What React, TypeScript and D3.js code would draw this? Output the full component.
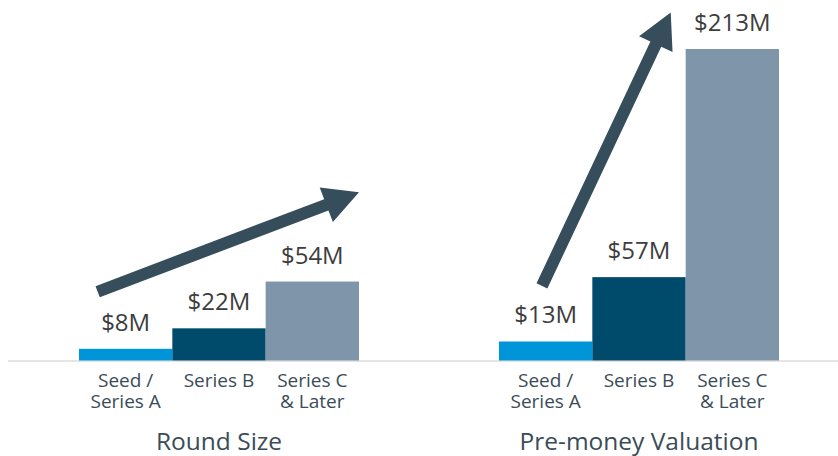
import { useRef, useEffect } from "react";
import * as d3 from "d3";

// --- data ---
const categories = ["seed", "seriesB", "seriesC"];
const categoryLines = [["Seed /", "Series A"], ["Series B"], ["Series C", "& Later"]];
const panels = ["Round Size", "Pre-money Valuation"];
const roundSize = [8, 22, 54];
const preMoney = [13, 57, 213];
const panelValues = [roundSize, preMoney];
const valueLabels = [["$8M", "$22M", "$54M"], ["$13M", "$57M", "$213M"]];
// arrows in data space: [band index + fraction, value] from -> to
const arrowFrom = [[0.2, 47], [0.46, 51]];
const arrowTo = [[3.0, 115], [1.84, 238]];

const colors = ["#0095d9", "#004b6b", "#7f96aa"];
const arrowColor = "#364d5c";

export default function App() {
  const ref = useRef<SVGSVGElement>(null);

  useEffect(() => {
    const svg = d3.select(ref.current);
    svg.selectAll("*").remove();

    const width = 838;
    const baseY = 360.5;
    const panelLeft = 79;
    const panelStep = 420;
    const panelWidth = 280;

    const y = d3.scaleLinear().domain([0, 213]).range([baseY, 49]);

    // baseline
    svg
      .append("line")
      .attr("x1", 8)
      .attr("x2", width)
      .attr("y1", baseY + 0.5)
      .attr("y2", baseY + 0.5)
      .attr("stroke", "#dcdcdc")
      .attr("stroke-width", 1.5);

    panels.forEach((title, pi) => {
      const x0 = panelLeft + pi * panelStep;
      const x = d3
        .scaleBand()
        .domain(categories)
        .range([x0, x0 + panelWidth])
        .padding(0);
      const vals = panelValues[pi];
      const g = svg.append("g");

      // bars
      g.selectAll("rect")
        .data(vals)
        .join("rect")
        .attr("x", (_, i) => x(categories[i])!)
        .attr("width", x.bandwidth())
        .attr("y", (d) => y(d))
        .attr("height", (d) => baseY - y(d))
        .attr("fill", (_, i) => colors[i]);

      // value labels
      g.selectAll("text.val")
        .data(vals)
        .join("text")
        .attr("class", "val")
        .attr("x", (_, i) => x(categories[i])! + x.bandwidth() / 2)
        .attr("y", (d) => y(d) - 18)
        .attr("text-anchor", "middle")
        .attr("font-family", "'Open Sans', sans-serif")
        .attr("font-size", 24)
        .attr("fill", "#3d3d3d")
        .text((_, i) => valueLabels[pi][i]);

      // category labels, one text per line
      categoryLines.forEach((lines, i) => {
        lines.forEach((ln, li) => {
          g.append("text")
            .attr("x", x(categories[i])! + x.bandwidth() / 2)
            .attr("y", 387 + li * 20.5)
            .attr("text-anchor", "middle")
            .attr("font-family", "'Open Sans', sans-serif")
            .attr("font-size", 19)
            .attr("fill", "#3b4c58")
            .text(ln);
        });
      });

      // panel title
      g.append("text")
        .attr("x", x0 + panelWidth / 2)
        .attr("y", 450)
        .attr("text-anchor", "middle")
        .attr("font-family", "'Open Sans', sans-serif")
        .attr("font-size", 24.5)
        .attr("fill", "#3b4c58")
        .text(title);

      // arrow
      const px = (f: number) => x0 + (f * panelWidth) / categories.length;
      const [sx, sy] = [px(arrowFrom[pi][0]), y(arrowFrom[pi][1])];
      const [tx, ty] = [px(arrowTo[pi][0]), y(arrowTo[pi][1])];
      const len = Math.hypot(tx - sx, ty - sy);
      const ux = (tx - sx) / len;
      const uy = (ty - sy) / len;
      const nx = -uy;
      const ny = ux;
      const shaftW = 6;
      const headW = 18.5;
      const headL = 35;
      const bx = tx - ux * headL;
      const by = ty - uy * headL;
      const pts: [number, number][] = [
        [sx + nx * shaftW, sy + ny * shaftW],
        [bx + nx * shaftW, by + ny * shaftW],
        [bx + nx * headW, by + ny * headW],
        [tx, ty],
        [bx - nx * headW, by - ny * headW],
        [bx - nx * shaftW, by - ny * shaftW],
        [sx - nx * shaftW, sy - ny * shaftW],
      ];
      g.append("path")
        .attr("d", d3.line()(pts) + "Z")
        .attr("fill", arrowColor);
    });
  }, []);

  return (
    <svg
      ref={ref}
      width={838}
      height={456}
      style={{ position: "absolute", left: 0, top: 0, background: "#fff" }}
    ></svg>
  );
}
